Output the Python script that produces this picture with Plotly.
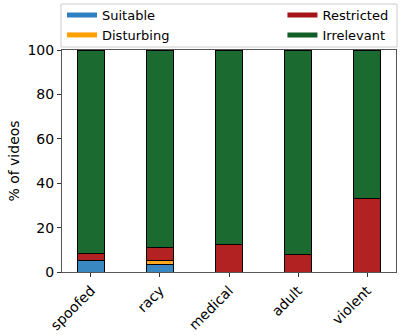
import plotly.graph_objects as go

categories = ["spoofed", "racy", "medical", "adult", "violent"]
suitable = [5.0, 3.2, 0.0, 0.0, 0.0]
disturbing = [0.0, 1.9, 0.0, 0.0, 0.0]
restricted = [3.5, 6.0, 12.3, 8.1, 33.3]
irrelevant = [100 - a - b - c for a, b, c in zip(suitable, disturbing, restricted)]

series = [
    ("Suitable", suitable, "#3a88c2", "#2d7fc1", "legend"),
    ("Disturbing", disturbing, "#ffa620", "#ffa000", "legend"),
    ("Restricted", restricted, "#b22222", "#a51419", "legend2"),
    ("Irrelevant", irrelevant, "#1b6b31", "#105e26", "legend2"),
]

FONT = "DejaVu Sans"
fig = go.Figure()
x_idx = list(range(len(categories)))
for name, vals, col, lcol, lg in series:
    fig.add_trace(go.Bar(x=x_idx, y=vals, width=0.4, marker=dict(color=col, line=dict(color="black", width=1)),
                         name=name, showlegend=False))
for name, vals, col, lcol, lg in series:
    fig.add_trace(go.Scatter(x=[None], y=[None], mode="lines", line=dict(color=lcol, width=5),
                             name=name, legend=lg, showlegend=True))

leg_common = dict(yanchor="top", xanchor="left", bgcolor="rgba(0,0,0,0)",
                  font=dict(size=13), tracegroupgap=0, itemwidth=30, traceorder="normal")
fig.update_layout(
    width=407, height=335,
    margin=dict(l=62, r=11, t=50, b=63, autoexpand=False),
    barmode="stack",
    plot_bgcolor="white", paper_bgcolor="white",
    font=dict(family=FONT, size=14, color="black"),
    showlegend=True,
    legend=dict(x=0.0, y=1.225, **leg_common),
    legend2=dict(x=0.66, y=1.225, **leg_common),
    xaxis=dict(range=[-0.42, 4.42], tickmode="array", tickvals=x_idx, ticktext=categories,
               tickangle=-45, ticks="outside", ticklen=4, tickcolor="#333", showline=True,
               linecolor="#555", mirror=True, showgrid=False, zeroline=False,
               tickfont=dict(size=14)),
    yaxis=dict(range=[0, 100], tickvals=[0, 20, 40, 60, 80, 100], ticks="outside", ticklen=4,
               tickcolor="#333", showline=True, linecolor="#555", mirror=True, showgrid=False,
               zeroline=False, title=dict(text="% of videos", font=dict(size=14), standoff=4),
               tickfont=dict(size=14)),
    shapes=[dict(type="rect", xref="paper", yref="paper", x0=-0.003, x1=1.003, y0=1.0135, y1=1.207,
                 line=dict(color="#cccccc", width=1), fillcolor="rgba(255,255,255,0.8)", layer="below")],
)
fig.write_html("out.html", config={"displayModeBar": False},
               post_script="document.body.style.margin='0';document.body.style.overflow='hidden';")
